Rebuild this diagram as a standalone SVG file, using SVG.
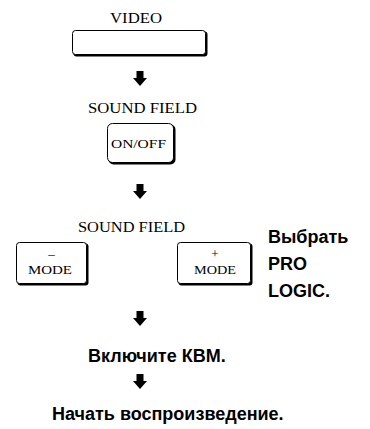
<svg xmlns="http://www.w3.org/2000/svg" width="370" height="429" viewBox="0 0 370 429">
<defs>
<style>
.lbl{font-family:"Liberation Serif","Times New Roman",serif;font-size:14px;fill:#000;text-anchor:middle}
.key{font-family:"Liberation Serif","Times New Roman",serif;font-size:13px;fill:#000;text-anchor:middle}
.bold{font-family:"Liberation Sans",Arial,sans-serif;font-size:18px;font-weight:bold;fill:#000}
.shadow{fill:#000}
.face{fill:#fff;stroke:#000;stroke-width:1}
</style>
<path id="arr" d="M-3.5,0 H3.5 V7 H7 L0,15 L-7,7 H-3.5 Z" fill="#000"/>
</defs>
<g id="connectors">
<use href="#arr" x="140" y="71"/>
<use href="#arr" x="140" y="184"/>
<use href="#arr" x="140" y="311"/>
<use href="#arr" x="140" y="374"/>
</g>
<g id="video">
<text class="lbl" x="136" y="23" textLength="52" lengthAdjust="spacingAndGlyphs">VIDEO</text>
<rect class="shadow" x="73.5" y="31.5" width="134" height="25" rx="3"/>
<rect class="face" x="72.5" y="30.5" width="133" height="24" rx="3"/>
</g>
<g id="onoff">
<text class="lbl" x="142.5" y="113" textLength="109" lengthAdjust="spacingAndGlyphs">SOUND FIELD</text>
<rect class="shadow" x="108.5" y="124.5" width="67" height="40" rx="5"/>
<rect class="face" x="107.5" y="123.5" width="66" height="39" rx="5"/>
<text class="key" x="138.5" y="148" textLength="55" lengthAdjust="spacingAndGlyphs">ON/OFF</text>
</g>
<g id="mode">
<text class="lbl" x="131.5" y="232" textLength="107" lengthAdjust="spacingAndGlyphs">SOUND FIELD</text>
<rect class="shadow" x="17.5" y="243.5" width="71" height="42" rx="3"/>
<rect class="face" x="16.5" y="242.5" width="70" height="41" rx="3"/>
<text class="key" x="51.5" y="258">–</text>
<text class="key" x="50" y="274" textLength="44" lengthAdjust="spacingAndGlyphs">MODE</text>
<rect class="shadow" x="178.5" y="243.5" width="74" height="42" rx="3"/>
<rect class="face" x="177.5" y="242.5" width="73" height="41" rx="3"/>
<text class="key" x="215" y="258">+</text>
<text class="key" x="215" y="274" textLength="42" lengthAdjust="spacingAndGlyphs">MODE</text>
</g>
<g id="select">
<text class="bold" x="268" y="243">Выбрать</text>
<text class="bold" x="268" y="270">PRO</text>
<text class="bold" x="268" y="297">LOGIC.</text>
</g>
<g id="kvm">
<text class="bold" x="88" y="362">Включите КВМ.</text>
</g>
<g id="play">
<text class="bold" x="52" y="420">Начать воспроизведение.</text>
</g>
</svg>
